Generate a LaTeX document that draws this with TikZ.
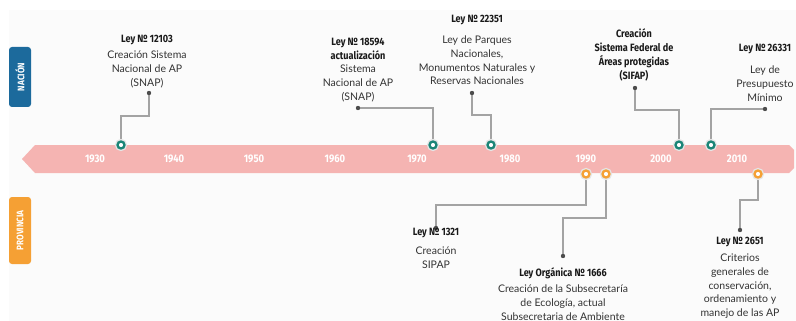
\documentclass[tikz,border=0pt]{standalone}
\usepackage{fontspec}
\setmainfont{Lato}
\newfontfamily\headfont{Fira Sans}[FakeStretch=0.86]
\usetikzlibrary{backgrounds}

\definecolor{natteal}{HTML}{1B8577}
\definecolor{provorange}{HTML}{F5A034}
\definecolor{natblue}{HTML}{1C6A9C}
\definecolor{bandpink}{HTML}{F5B4B2}
\definecolor{ink}{HTML}{333333}
\definecolor{linkgray}{HTML}{A3A3A3}

\tikzset{
  halo/.style={preaction={draw=black!10, line width=5pt}},
  natmark/.style={circle, minimum size=7pt, inner sep=0pt, fill=white, draw=natteal, line width=2.3pt, halo},
  provmark/.style={natmark, draw=provorange},
  tipdot/.style={circle, fill=black!70, minimum size=4.4pt, inner sep=0pt},
  link/.style={draw=linkgray, line width=1.1pt},
  lawtitle/.style={anchor=north, align=center, inner sep=0pt, text=black!90,
    font=\headfont\bfseries\fontsize{10.6}{14}\selectfont},
  lawtext/.style={anchor=north, align=center, inner sep=0pt, text=ink,
    font=\fontsize{10.5}{13.6}\selectfont},
  yearlbl/.style={text=white, font=\headfont\bfseries\fontsize{11}{12}\selectfont},
  tab/.style={rounded corners=3pt, rotate=90, minimum height=22pt, inner sep=0pt,
    text=white, font=\headfont\bfseries\fontsize{9.5}{11}\selectfont}
}

\begin{document}
\begin{tikzpicture}[x=1pt, y=-1pt]
	\clip (0,0) rectangle (796,321);
	% line of time
	\fill[bandpink] (22,159) -- (35,145) -- (789,145) -- (794,150) -- (794,168) -- (789,173) -- (35,173) -- cycle;
	\foreach \yr/\xx in {1930/95, 1940/174, 1950/254, 1960/335, 1970/417, 1980/510, 1990/586, 2000/661, 2010/737}
	  \node[yearlbl] (y\yr) at (\xx,159) {\yr};
	% tabs
	\node[tab, fill=natblue, minimum width=60pt] (nacion) at (20,77) {NACIÓN};
	\node[tab, fill=provorange, minimum width=67pt] (provincia) at (20,230.5) {PROVINCIA};
	% marks on the line
	\node[natmark] (nat12103) at (121,145) {};
	\node[natmark] (nat18594) at (433,145) {};
	\node[natmark] (nat22351) at (491,145) {};
	\node[natmark] (natsifap) at (679,145) {};
	\node[natmark] (nat26331) at (711,145) {};
	\node[provmark] (prov1321) at (586,174) {};
	\node[provmark] (prov1666) at (606,174) {};
	\node[provmark] (prov2651) at (758,174) {};
	% ends of the links
	\node[tipdot] (d12103) at (149,93) {};
	\node[tipdot] (d18594) at (358,108) {};
	\node[tipdot] (d22351) at (472,93) {};
	\node[tipdot] (dsifap) at (635,88) {};
	\node[tipdot] (d26331) at (765,109) {};
	\node[tipdot] (d1321) at (436,228) {};
	\node[tipdot] (d1666) at (563,256) {};
	\node[tipdot] (d2651) at (740,230) {};
	\begin{pgfonlayer}{background}
	  \fill[white] (0,0) rectangle (796,321);
	  \fill[black!1.5] (9,10) rectangle (796,321);
	  \draw[link] (nat12103.center) -- ++(0,-29) -| (d12103.center);
	  \draw[link] (nat18594.center) |- (d18594.center);
	  \draw[link] (nat22351.center) -- ++(0,-30) -| (d22351.center);
	  \draw[link] (natsifap.center) -- ++(0,-35) -| (dsifap.center);
	  \draw[link] (nat26331.center) |- (d26331.center);
	  \draw[link] (prov1321.center) -- ++(0,31) -| (d1321.center);
	  \draw[link] (prov1666.center) -- ++(0,44) -| (d1666.center);
	  \draw[link] (prov2651.center) -- ++(0,26) -| (d2651.center);
	\end{pgfonlayer}
	% nacion
	\node[lawtitle] (t12103) at (147,35) {Ley № 12103};
	\node[lawtext] (x12103) at (147,51) {Creación Sistema\\Nacional de AP\\(SNAP)};
	\node[lawtitle] (t18594) at (358,38) {Ley № 18594\\actualización};
	\node[lawtext] (x18594) at (358,65) {Sistema\\Nacional de AP\\(SNAP)};
	\node[lawtitle] (t22351) at (477,15) {Ley № 22351};
	\node[lawtext] (x22351) at (477,36) {Ley de Parques\\Nacionales,\\Monumentos Naturales y\\Reservas Nacionales};
	\node[lawtitle] (tsifap) at (634,28) {Creación\\Sistema Federal de\\Áreas protegidas\\(SIFAP)};
	\node[lawtitle] (t26331) at (765,44) {Ley № 26331};
	\node[lawtext] (x26331) at (765,66) {Ley de\\Presupuesto\\Mínimo};
	% provincia
	\node[lawtitle] (t1321) at (436,228) {Ley № 1321};
	\node[lawtext] (x1321) at (436,247) {Creación\\SIPAP};
	\node[lawtitle] (t1666) at (563,267) {Ley Orgánica № 1666};
	\node[lawtext] (x1666) at (563,285) {Creación de la Subsecretaría\\de Ecología, actual\\Subsecretaria de Ambiente};
	\node[lawtitle] (t2651) at (740,237) {Ley № 2651};
	\node[lawtext] (x2651) at (740,254) {Criterios\\generales de\\conservación,\\ordenamiento y\\manejo de las AP};
\end{tikzpicture}
\end{document}
